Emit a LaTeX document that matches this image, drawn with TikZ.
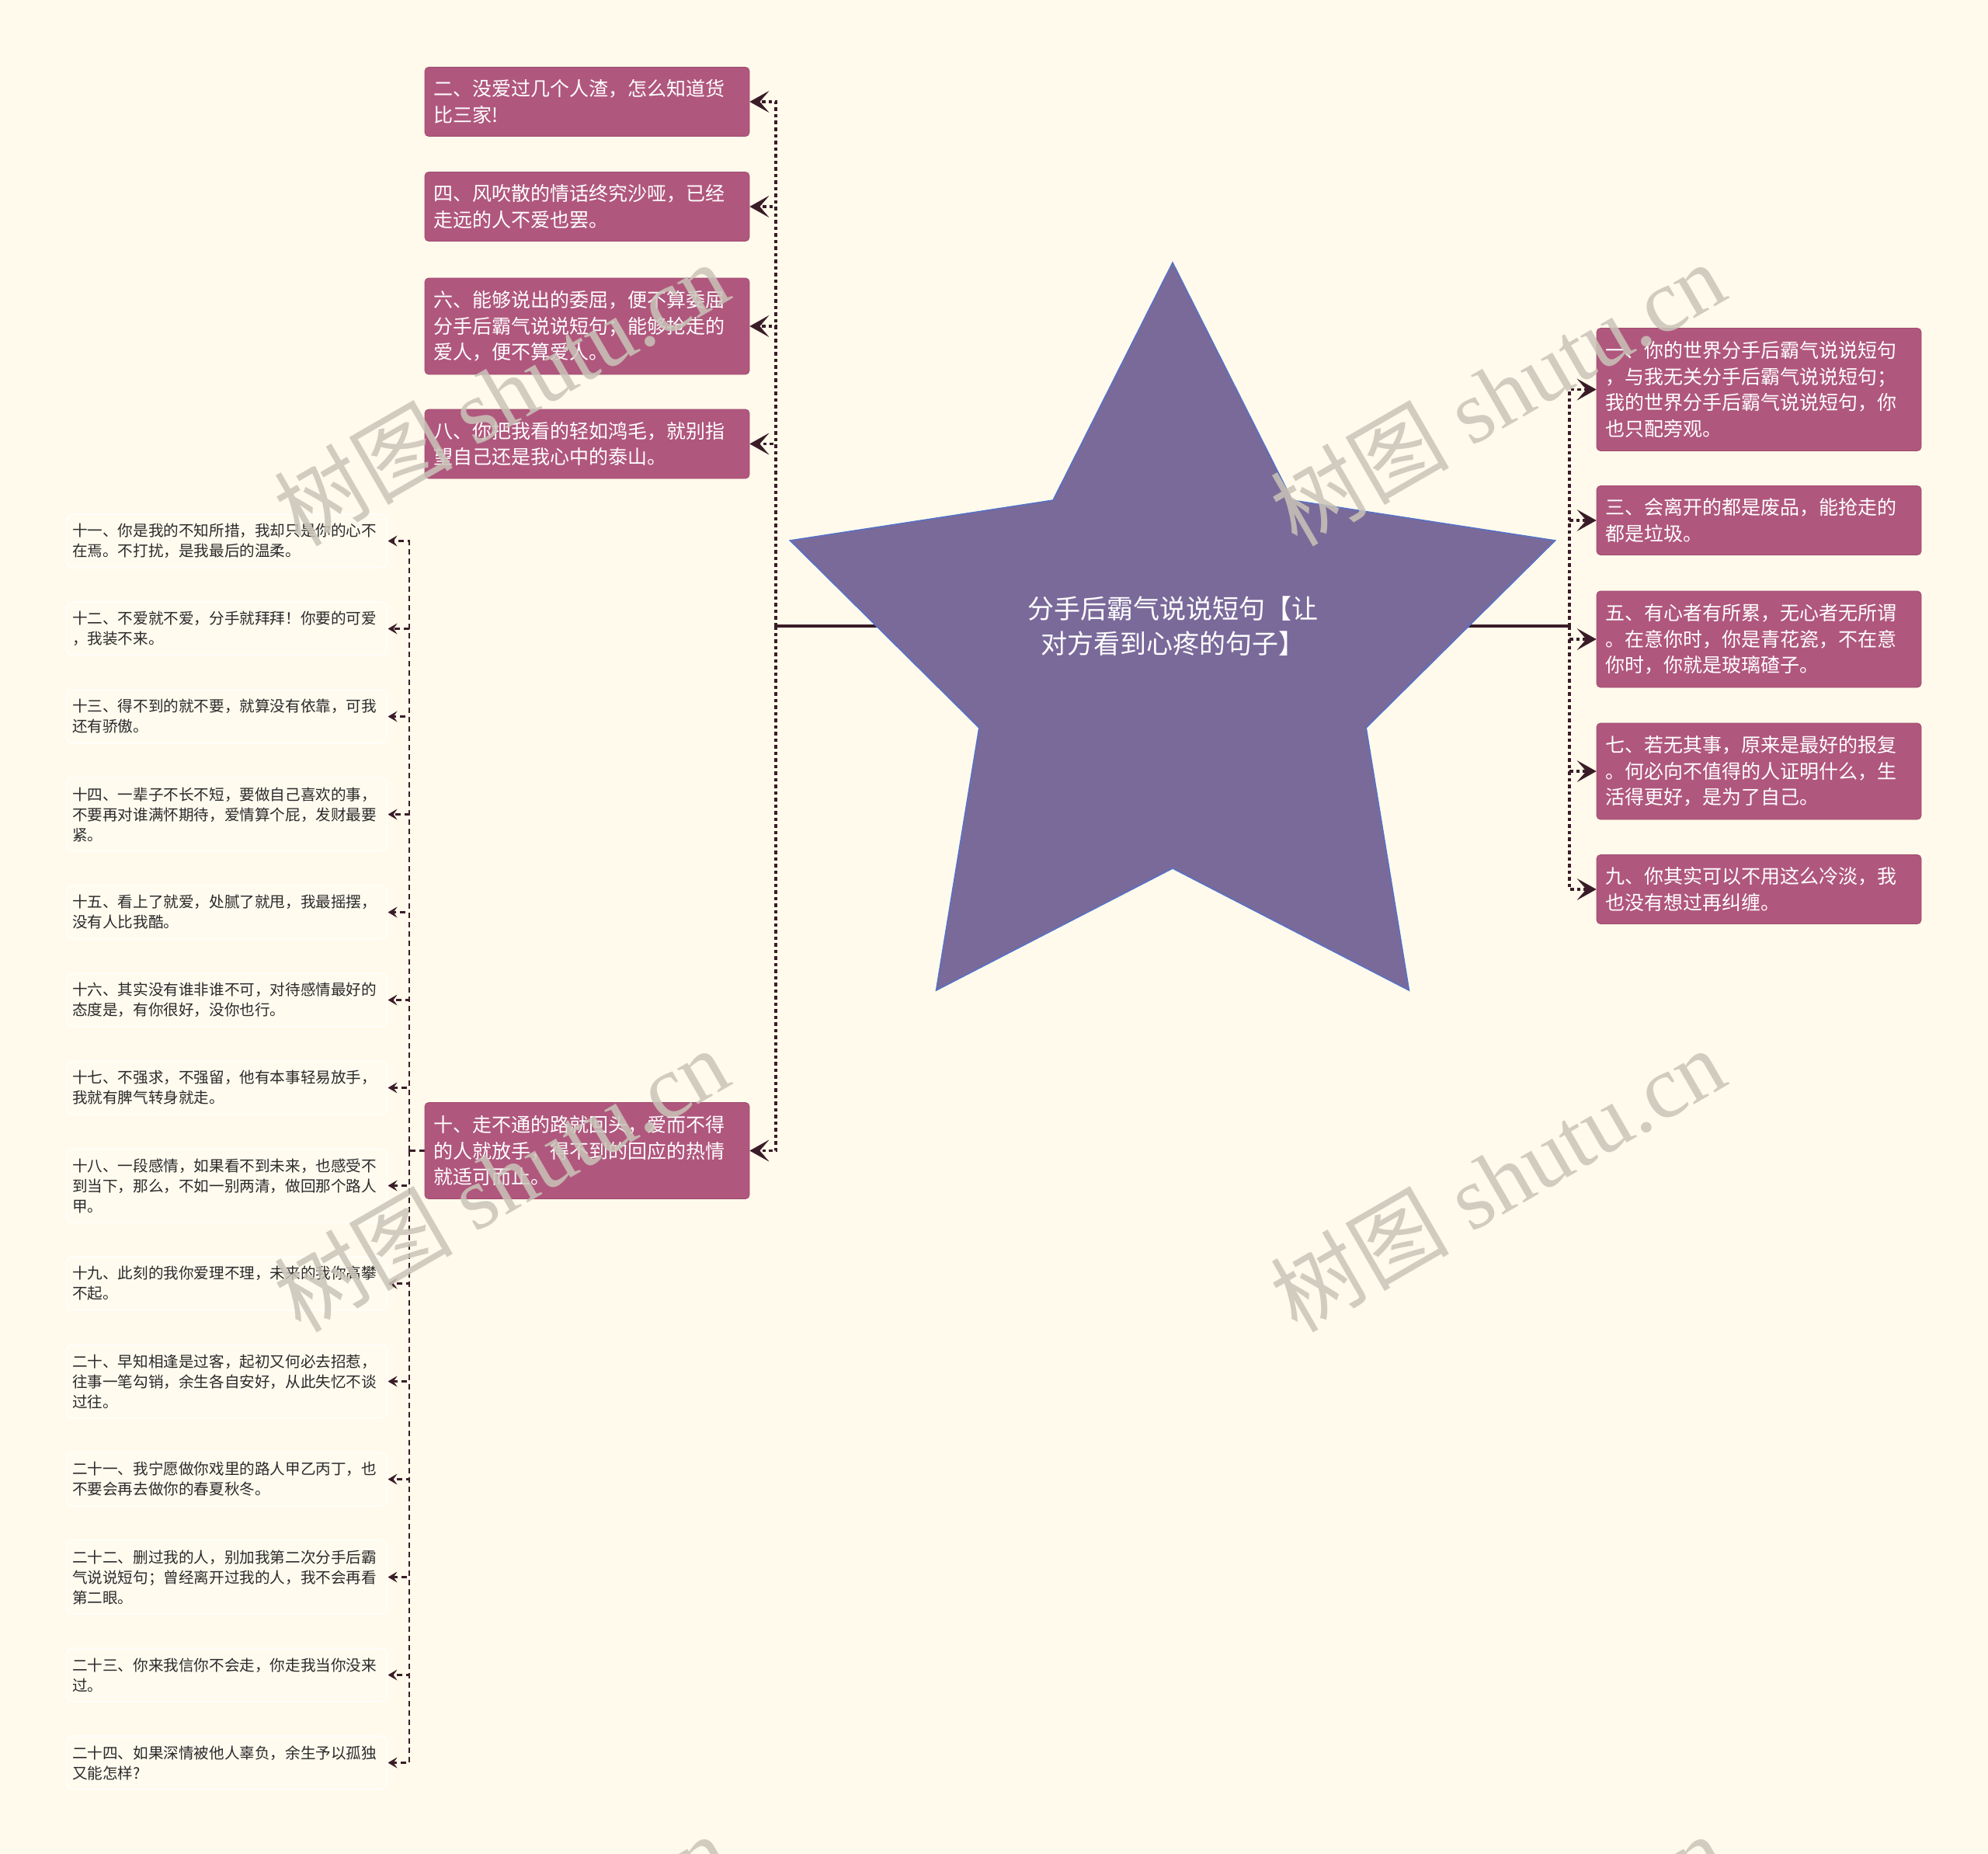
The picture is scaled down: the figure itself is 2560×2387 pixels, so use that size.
\documentclass[tikz,border=0pt]{standalone}
\usepackage{fontspec}
\newfontfamily\cjk{Noto Sans CJK SC}
\newfontfamily\wmserif{Liberation Serif}
\usetikzlibrary{arrows.meta}
\pgfdeclarelayer{bg}
\pgfsetlayers{bg,main}
\definecolor{bgc}{HTML}{FFFAEB}
\definecolor{pinkc}{HTML}{B0577D}
\definecolor{pinkd}{HTML}{A04B6F}
\definecolor{starc}{HTML}{7A6A9A}
\definecolor{stard}{HTML}{5472C8}
\definecolor{linec}{HTML}{3A1C28}
\definecolor{wfill}{HTML}{FFFBEF}
\definecolor{txtc}{HTML}{2A2A2A}
\definecolor{wmc}{HTML}{C9C4B8}
\begin{document}
\begin{tikzpicture}[x=1pt,y=-1pt,
  pbox/.style={rectangle, rounded corners=5pt, fill=pinkc, draw=pinkd, line width=0.8pt,
    text=white, font=\cjk\fontsize{25}{33.5}\selectfont, align=left,
    text width=396pt, inner xsep=11pt, inner ysep=0pt},
  ptwo/.style={minimum height=89pt},
  pthree/.style={minimum height=124pt},
  pfour/.style={minimum height=158pt},
  wbox/.style={rectangle, rounded corners=9pt, fill=wfill, draw=white, line width=1.2pt,
    text=txtc, font=\cjk\fontsize{19.6}{26}\selectfont, align=left,
    text width=398pt, inner xsep=8pt, inner ysep=0pt},
  wtwo/.style={minimum height=69pt},
  wthree/.style={minimum height=95pt},
  pconn/.style={draw=linec, line width=3.5pt, dash pattern=on 4.5pt off 4pt,
    -{Stealth[length=25pt,width=28pt,inset=12pt,line width=0.5pt,sep=0pt]}},
  wconn/.style={draw=linec, line width=2.5pt, dash pattern=on 7pt off 5pt,
    -{Stealth[length=12pt,width=14pt,inset=5pt,line width=0.5pt]}},
  wlink/.style={draw=linec, line width=2.5pt, dash pattern=on 7pt off 5pt},
  rootline/.style={draw=linec, line width=3.5pt},
  wm/.style={text=wmc, opacity=0.85, font=\wmserif\fontsize{115}{120}\selectfont, inner sep=0pt}
]
\useasboundingbox (0,0) rectangle (2560,2387);
\begin{pgfonlayer}{bg}
\fill[bgc] (0,0) rectangle (2560,2387);
\end{pgfonlayer}

% star
\filldraw[fill=starc, draw=stard, line width=1.5pt]
  (1510,338) -- (1664,644) -- (2002.6,695.9) -- (1759.2,937) -- (1814.5,1275.1)
  -- (1510,1118) -- (1205.5,1275.1) -- (1260.8,937) -- (1017.4,695.9) -- (1356,644) -- cycle;
\node[font=\cjk\fontsize{34}{45}\selectfont, text=white, align=center] (root) at (1510,806)
  {分手后霸气说说短句【让\\对方看到心疼的句子】};

\coordinate (jL) at (999,806);
\coordinate (jR) at (2021,806);
\coordinate (jW) at (527,1481.5);

% left pink boxes
\node[pbox,ptwo] (b2) at (756,131) {二、没爱过几个人渣，怎么知道货\\比三家!};
\node[pbox,ptwo] (b4) at (756,266) {四、风吹散的情话终究沙哑，已经\\走远的人不爱也罢。};
\node[pbox,pthree] (b6) at (756,420) {六、能够说出的委屈，便不算委屈\\分手后霸气说说短句；能够抢走的\\爱人，便不算爱人。};
\node[pbox,ptwo] (b8) at (756,571.5) {八、你把我看的轻如鸿毛，就别指\\望自己还是我心中的泰山。};
\node[pbox,pthree] (b10) at (756,1481.5) {十、走不通的路就回头，爱而不得\\的人就放手，得不到的回应的热情\\就适可而止。};

% right pink boxes
\node[pbox,pfour] (r1) at (2265,501.5) {一、你的世界分手后霸气说说短句\\，与我无关分手后霸气说说短句；\\我的世界分手后霸气说说短句，你\\也只配旁观。};
\node[pbox,ptwo] (r3) at (2265,670) {三、会离开的都是废品，能抢走的\\都是垃圾。};
\node[pbox,pthree] (r5) at (2265,823) {五、有心者有所累，无心者无所谓\\。在意你时，你是青花瓷，不在意\\你时，你就是玻璃碴子。};
\node[pbox,pthree] (r7) at (2265,993) {七、若无其事，原来是最好的报复\\。何必向不值得的人证明什么，生\\活得更好，是为了自己。};
\node[pbox,ptwo] (r9) at (2265,1145) {九、你其实可以不用这么冷淡，我\\也没有想过再纠缠。};

% white boxes
\node[wbox,wtwo] (w11) at (292,696.5) {十一、你是我的不知所措，我却只是你的心不\\在焉。不打扰，是我最后的温柔。};
\node[wbox,wtwo] (w12) at (292,809.5) {十二、不爱就不爱，分手就拜拜！你要的可爱\\，我装不来。};
\node[wbox,wtwo] (w13) at (292,922.5) {十三、得不到的就不要，就算没有依靠，可我\\还有骄傲。};
\node[wbox,wthree] (w14) at (292,1048.5) {十四、一辈子不长不短，要做自己喜欢的事，\\不要再对谁满怀期待，爱情算个屁，发财最要\\紧。};
\node[wbox,wtwo] (w15) at (292,1174.5) {十五、看上了就爱，处腻了就甩，我最摇摆，\\没有人比我酷。};
\node[wbox,wtwo] (w16) at (292,1287.5) {十六、其实没有谁非谁不可，对待感情最好的\\态度是，有你很好，没你也行。};
\node[wbox,wtwo] (w17) at (292,1400.5) {十七、不强求，不强留，他有本事轻易放手，\\我就有脾气转身就走。};
\node[wbox,wthree] (w18) at (292,1526.5) {十八、一段感情，如果看不到未来，也感受不\\到当下，那么，不如一别两清，做回那个路人\\甲。};
\node[wbox,wtwo] (w19) at (292,1652.5) {十九、此刻的我你爱理不理，未来的我你高攀\\不起。};
\node[wbox,wthree] (w20) at (292,1778.5) {二十、早知相逢是过客，起初又何必去招惹，\\往事一笔勾销，余生各自安好，从此失忆不谈\\过往。};
\node[wbox,wtwo] (w21) at (292,1904.5) {二十一、我宁愿做你戏里的路人甲乙丙丁，也\\不要会再去做你的春夏秋冬。};
\node[wbox,wthree] (w22) at (292,2030.5) {二十二、删过我的人，别加我第二次分手后霸\\气说说短句；曾经离开过我的人，我不会再看\\第二眼。};
\node[wbox,wtwo] (w23) at (292,2156.5) {二十三、你来我信你不会走，你走我当你没来\\过。};
\node[wbox,wtwo] (w24) at (292,2269.5) {二十四、如果深情被他人辜负，余生予以孤独\\又能怎样?};

% connectors
\begin{pgfonlayer}{bg}
\draw[rootline] (root) -- (jL);
\draw[rootline] (root) -- (jR);
\foreach \b in {b2,b4,b6,b8,b10} \draw[pconn] (jL) |- (\b.east);
\foreach \r in {r1,r3,r5,r7,r9} \draw[pconn] (jR) |- (\r.west);
\draw[wlink] (b10.west) -- (jW);
\foreach \w in {w11,w12,w13,w14,w15,w16,w17,w18,w19,w20,w21,w22,w23,w24} \draw[wconn] (jW) |- (\w.east);
\end{pgfonlayer}

% watermarks
\node[wm, rotate=30] (wm1) at (645,506) {{\cjk 树图} shutu.cn};
\node[wm, rotate=30] (wm2) at (1928,506) {{\cjk 树图} shutu.cn};
\node[wm, rotate=30] (wm3) at (645,1518) {{\cjk 树图} shutu.cn};
\node[wm, rotate=30] (wm4) at (1928,1518) {{\cjk 树图} shutu.cn};
\node[wm, rotate=30] (wm5) at (645,2530) {{\cjk 树图} shutu.cn};
\node[wm, rotate=30] (wm6) at (1928,2530) {{\cjk 树图} shutu.cn};
\end{tikzpicture}
\end{document}
